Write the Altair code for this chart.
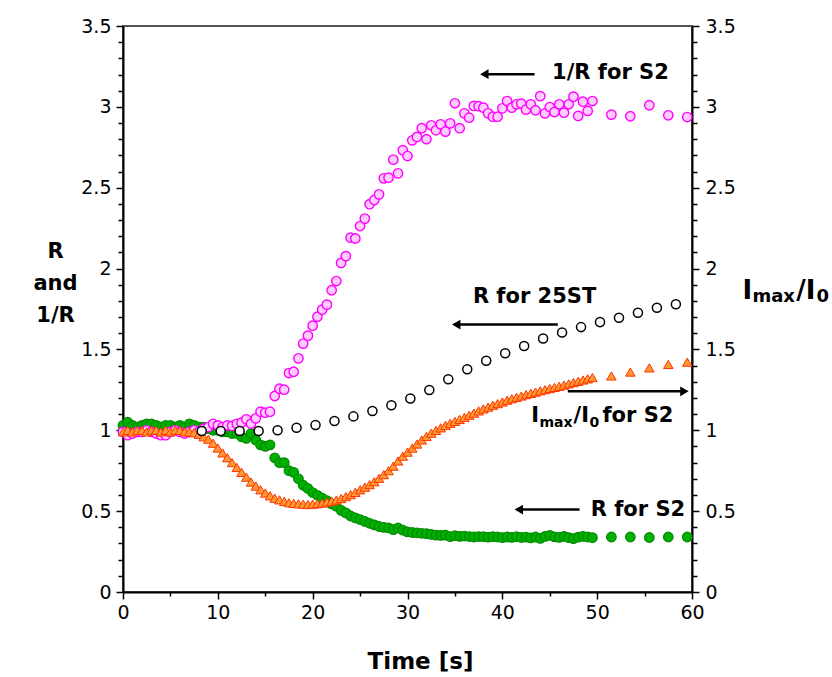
import altair as alt
import pandas as pd

# ---------------- data ----------------
time_dense = [0, 0.5, 1, 1.5, 2, 2.5, 3, 3.5, 4, 4.5, 5, 5.5, 6, 6.5, 7, 7.5, 8, 8.5, 9, 9.5,
              10, 10.5, 11, 11.5, 12, 12.5, 13, 13.5, 14, 14.5, 15, 15.5, 16, 16.5, 17, 17.5, 18, 18.5, 19, 19.5,
              20, 20.5, 21, 21.5, 22, 22.5, 23, 23.5, 24, 24.5, 25, 25.5, 26, 26.5, 27, 27.5, 28, 28.5, 29, 29.5,
              30, 30.5, 31, 31.5, 32, 32.5, 33, 33.5, 34, 34.5, 35, 35.5, 36, 36.5, 37, 37.5, 38, 38.5, 39, 39.5,
              40, 40.5, 41, 41.5, 42, 42.5, 43, 43.5, 44, 44.5, 45, 45.5, 46, 46.5, 47, 47.5, 48, 48.5, 49, 49.5]
time_sparse = [51.5, 53.5, 55.5, 57.5, 59.5]
time_s2 = time_dense + time_sparse

inv_r_s2 = [0.99, 0.97, 0.98, 0.99, 0.99, 1.00, 0.99, 0.98, 0.97, 0.97, 0.99, 1.00, 0.99, 0.98, 0.99, 1.00, 0.99, 1.01, 1.02, 1.04,
            1.03, 1.02, 1.03, 1.027, 1.04, 1.047, 1.068, 1.041, 1.074, 1.115, 1.109, 1.115, 1.212, 1.257, 1.251, 1.354, 1.362, 1.445, 1.536, 1.585,
            1.647, 1.702, 1.746, 1.777, 1.866, 1.923, 2.035, 2.077, 2.191, 2.186, 2.263, 2.309, 2.398, 2.424, 2.459, 2.558, 2.562, 2.674, 2.589, 2.732,
            2.696, 2.793, 2.814, 2.868, 2.800, 2.886, 2.855, 2.892, 2.847, 2.898, 3.022, 2.868, 2.960, 2.933, 3.006, 3.004, 2.995, 2.960, 2.939, 2.939,
            2.991, 3.036, 2.995, 3.016, 3.020, 2.983, 3.016, 2.979, 3.066, 2.960, 2.999, 2.968, 3.016, 2.964, 3.016, 3.063, 2.944, 3.032, 2.975, 3.036,
            2.952, 2.942, 3.010, 2.948, 2.937]

r_s2 = [1.03, 1.05, 1.03, 1.02, 1.03, 1.04, 1.04, 1.03, 1.02, 1.03, 1.03, 1.02, 1.03, 1.02, 1.04, 1.03, 1.02, 1.02, 1.01, 1.00,
        1.00, 0.99, 0.99, 0.98, 0.98, 0.96, 0.95, 0.98, 0.94, 0.91, 0.90, 0.91, 0.83, 0.80, 0.80, 0.75, 0.74, 0.70, 0.66, 0.64,
        0.615, 0.598, 0.58, 0.565, 0.545, 0.53, 0.505, 0.489, 0.47, 0.458, 0.448, 0.437, 0.425, 0.415, 0.405, 0.40, 0.396, 0.386, 0.396, 0.382,
        0.372, 0.368, 0.365, 0.363, 0.361, 0.356, 0.352, 0.350, 0.352, 0.342, 0.348, 0.344, 0.346, 0.343, 0.340, 0.343, 0.342, 0.339, 0.342, 0.340,
        0.336, 0.340, 0.338, 0.342, 0.337, 0.339, 0.335, 0.340, 0.332, 0.344, 0.350, 0.341, 0.338, 0.344, 0.336, 0.330, 0.339, 0.344, 0.340, 0.336,
        0.340, 0.340, 0.337, 0.340, 0.340]

imax_s2 = [0.99, 1.00, 0.99, 1.00, 1.00, 0.99, 1.00, 1.00, 0.99, 1.00, 0.99, 1.00, 1.00, 0.99, 0.99, 0.985, 0.975, 0.96, 0.945, 0.92,
           0.89, 0.86, 0.83, 0.80, 0.77, 0.74, 0.71, 0.68, 0.655, 0.632, 0.612, 0.595, 0.58, 0.57, 0.56, 0.552, 0.548, 0.545, 0.543, 0.541,
           0.543, 0.546, 0.55, 0.556, 0.562, 0.569, 0.578, 0.59, 0.602, 0.616, 0.632, 0.648, 0.664, 0.682, 0.703, 0.726, 0.75, 0.778, 0.81, 0.84,
           0.865, 0.89, 0.915, 0.94, 0.962, 0.982, 1.0, 1.015, 1.03, 1.043, 1.055, 1.067, 1.08, 1.093, 1.106, 1.12, 1.132, 1.143, 1.155, 1.165,
           1.175, 1.186, 1.195, 1.204, 1.212, 1.22, 1.228, 1.236, 1.244, 1.251, 1.258, 1.265, 1.272, 1.279, 1.287, 1.295, 1.303, 1.311, 1.318, 1.326,
           1.336, 1.36, 1.386, 1.407, 1.421]

time_25st = [8.3, 10.3, 12.3, 14.3, 16.3, 18.3, 20.3, 22.3, 24.3, 26.3, 28.3, 30.3, 32.3,
             34.3, 36.3, 38.3, 40.3, 42.3, 44.3, 46.3, 48.3, 50.3, 52.3, 54.3, 56.3, 58.3]
r_25st = [0.996, 0.996, 0.996, 0.996, 1.0, 1.016, 1.033, 1.057, 1.086, 1.119, 1.155, 1.196, 1.249,
          1.315, 1.377, 1.430, 1.476, 1.521, 1.568, 1.605, 1.638, 1.669, 1.696, 1.727, 1.758, 1.779]

# annotations (data coordinates)
label_text = ["1/R for S2", "R for 25ST", "R for S2"]
label_t = [51.4, 43.4, 54.3]
label_v = [3.208, 1.824, 0.505]

arrow_from_t = [43.4, 45.85, 46.9, 48.14]
arrow_to_t = [38.1, 35.14, 59.2, 41.74]
arrow_v = [3.202, 1.654, 1.241, 0.51]
arrow_head = ["triangle-left", "triangle-left", "triangle-right", "triangle-left"]

# "Imax/I0 for S2" pieces and right-axis title pieces
piece_text = ["I", "max", "/I", "0", "for S2", "I", "max", "/I", "0"]
piece_t = [43.05, 43.92, 47.5, 49.19, 50.56, 65.33, 66.37, 71.0, 73.13]
piece_v = [1.051, 1.02, 1.051, 1.02, 1.051, 1.81, 1.792, 1.81, 1.792]
piece_size = [21, 14, 21, 14, 21, 26, 18, 26, 18]

FONT = "DejaVu Sans"

s2 = pd.DataFrame({"t": time_s2, "inv_r": inv_r_s2, "r": r_s2, "imax": imax_s2})
st = pd.DataFrame({"t": time_25st, "r": r_25st})
labels = pd.DataFrame({"t": label_t, "v": label_v, "text": label_text})
arrows = pd.DataFrame({"t": arrow_from_t, "t2": arrow_to_t, "v": arrow_v, "head": arrow_head})
pieces = pd.DataFrame({"t": piece_t, "v": piece_v, "text": piece_text, "size": piece_size})

xscale = alt.Scale(domain=[0, 60], nice=False, zero=False)
yscale = alt.Scale(domain=[0, 3.5], nice=False, zero=False)

xticks = [0, 5, 10, 15, 20, 25, 30, 35, 40, 45, 50, 55, 60]
yticks = [round(i * 0.1, 1) for i in range(36)]
ymajor = "abs(datum.value*2 - round(datum.value*2)) < 0.001"

x_axis = alt.Axis(
    orient="bottom", values=xticks, title="Time [s]",
    labelExpr="datum.value % 10 === 0 ? toString(datum.value) : ''",
    tickSize={"condition": {"test": "datum.value % 10 === 0", "value": 7}, "value": 4},
    labelPadding=4, labelOverlap=False, labelFlush=False,
    titleFont=FONT, titleFontSize=23, titleFontWeight="bold",
    titleX=297, titleY=76, titleBaseline="alphabetic",
)
y_left = alt.Axis(
    orient="left", values=yticks, title=["R", "and", "1/R"],
    labelExpr=f"({ymajor}) ? toString(datum.value) : ''",
    tickSize={"condition": {"test": ymajor, "value": 7}, "value": 5},
    labelPadding=5, labelOverlap=False, labelFlush=False,
    titleFont=FONT, titleFontSize=21, titleFontWeight="bold", titleAngle=0,
    titleAlign="center", titleBaseline="alphabetic", titleLineHeight=32,
    titleX=-68, titleY=231,
)
y_right = alt.Axis(
    orient="right", values=yticks, title=None,
    labelExpr=f"({ymajor}) ? toString(datum.value) : ''",
    tickSize={"condition": {"test": ymajor, "value": 7}, "value": 5},
    labelPadding=6, labelOverlap=False, labelFlush=False,
)

green = alt.Chart(s2).mark_point(
    shape="circle", filled=True, fill="#00b000", stroke="#008a00", strokeWidth=1.2, size=92, opacity=1
).encode(x=alt.X("t:Q", scale=xscale, axis=x_axis), y=alt.Y("r:Q", scale=yscale, axis=y_left))

pink = alt.Chart(s2).mark_point(
    shape="circle", filled=True, fill="#ffccff", stroke="#ff00ff", strokeWidth=1.4, size=88, opacity=1
).encode(x=alt.X("t:Q", scale=xscale), y=alt.Y("inv_r:Q", scale=yscale, axis=None))

orange = alt.Chart(s2).mark_point(
    shape="triangle-up", filled=True, fill="#ff9933", stroke="#ff3300", strokeWidth=1.0, size=90, opacity=1
).encode(x=alt.X("t:Q", scale=xscale), y=alt.Y("imax:Q", scale=yscale, axis=y_right))

black = alt.Chart(st).mark_point(
    shape="circle", filled=True, fill="white", stroke="black", strokeWidth=1.5, size=82, opacity=1
).encode(x=alt.X("t:Q", scale=xscale), y=alt.Y("r:Q", scale=yscale, axis=None))

label_layer = alt.Chart(labels).mark_text(
    font=FONT, fontSize=21, fontWeight="bold", color="black", align="center", baseline="middle"
).encode(x=alt.X("t:Q", scale=xscale), y=alt.Y("v:Q", scale=yscale, axis=None), text="text:N")

arrow_lines = alt.Chart(arrows).mark_rule(color="black", strokeWidth=2.5).encode(
    x=alt.X("t:Q", scale=xscale), x2="t2:Q", y=alt.Y("v:Q", scale=yscale, axis=None)
)
arrow_heads = alt.Chart(arrows).mark_point(filled=True, color="black", size=95, opacity=1).encode(
    x=alt.X("t2:Q", scale=xscale), y=alt.Y("v:Q", scale=yscale, axis=None),
    shape=alt.Shape("head:N", scale=None),
)

piece_layer = alt.Chart(pieces).mark_text(
    font=FONT, fontWeight="bold", color="black", align="left", baseline="alphabetic"
).encode(
    x=alt.X("t:Q", scale=xscale), y=alt.Y("v:Q", scale=yscale, axis=None),
    text="text:N", size=alt.Size("size:Q", scale=None),
)

chart = alt.layer(
    green, pink, orange, black, arrow_lines, arrow_heads, label_layer, piece_layer
).resolve_axis(y="independent").properties(
    width=569, height=566,
    autosize=alt.AutoSizeParams(type="none"),
    padding={"left": 123, "top": 26, "right": 140, "bottom": 85},
).configure(background="white").configure_view(
    stroke="#555555", strokeWidth=2
).configure_axis(
    grid=False, labelFont=FONT, labelFontSize=19, labelColor="black",
    tickColor="black", tickWidth=1.5, domainColor="black", domainWidth=2, titleColor="black",
)

chart.save("out.html", embed_options={"renderer": "svg", "actions": False})
